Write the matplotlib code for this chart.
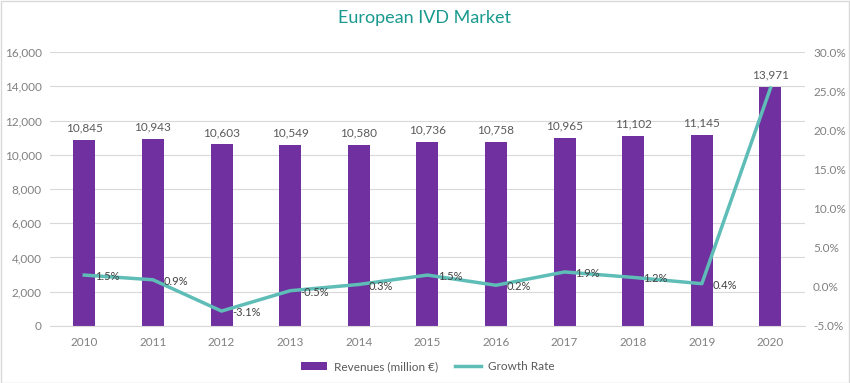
import numpy as np
import matplotlib.pyplot as plt
from matplotlib.ticker import FuncFormatter

plt.rcParams['font.family'] = ['Lato', 'DejaVu Sans']

years = ['2010', '2011', '2012', '2013', '2014', '2015', '2016', '2017', '2018', '2019', '2020']
revenues = [10845, 10943, 10603, 10549, 10580, 10736, 10758, 10965, 11102, 11145, 13971]
growth = [1.5, 0.9, -3.1, -0.5, 0.3, 1.5, 0.2, 1.9, 1.2, 0.4, 25.4]
growth_labels = ['1.5%', '0.9%', '-3.1%', '-0.5%', '0.3%', '1.5%', '0.2%', '1.9%', '1.2%', '0.4%', '']

purple = '#7030A0'
teal = '#5FBDB7'
gray = '#808080'

fig = plt.figure(figsize=(8.5, 3.83), dpi=100)
fig.patches.append(plt.Rectangle((0.001, 0.001), 0.998, 0.997, transform=fig.transFigure,
                                 fill=False, edgecolor='#d9d9d9', linewidth=1))
ax = fig.add_axes([0.0588, 0.149, 0.888, 0.715])
ax2 = ax.twinx()

x = np.arange(len(years))
bars = ax.bar(x, revenues, width=0.32, color=purple, zorder=2, label='Revenues (million €)')
for xi, v in zip(x, revenues):
    ax.text(xi, v + 380, f'{v:,}', ha='center', va='bottom', fontsize=8.5, color='#595959')

ax.set_ylim(0, 16000)
ax.set_yticks(np.arange(0, 16001, 2000))
ax.yaxis.set_major_formatter(FuncFormatter(lambda v, p: f'{int(v):,}'))
ax.set_xlim(-0.5, len(years) - 0.5)
ax.set_xticks(x)
ax.set_xticklabels(years)
ax.grid(axis='y', color='#d9d9d9', linewidth=0.8, zorder=0)
ax.set_axisbelow(True)

line, = ax2.plot(x, growth, color=teal, linewidth=2.5, zorder=3, label='Growth Rate')
for xi, g, lab in zip(x, growth, growth_labels):
    if lab:
        ax2.text(xi + 0.15, g - 0.2, lab, ha='left', va='center', fontsize=8, color='#404040', zorder=4)
ax2.set_ylim(-5, 30)
ax2.set_yticks(np.arange(-5, 30.1, 5))
ax2.yaxis.set_major_formatter(FuncFormatter(lambda v, p: f'{v:.1f}%'))

for a in (ax, ax2):
    for s in a.spines.values():
        s.set_visible(False)
    a.tick_params(length=0, labelsize=8.5, colors=gray)
ax.spines['bottom'].set_visible(True)
ax.spines['bottom'].set_color('#d9d9d9')
ax.tick_params(axis='x', pad=8)
ax.tick_params(axis='y', pad=6)
ax2.tick_params(axis='y', pad=6)

fig.text(0.5, 0.953, 'European IVD Market', ha='center', va='center', fontsize=13, color='#1A9A8E')
fig.legend(handles=[bars, line], loc='lower center', bbox_to_anchor=(0.503, 0.0), ncol=2,
           frameon=False, fontsize=8.5, labelcolor='#595959', handlelength=2.2,
           handletextpad=0.6, columnspacing=1.4)

fig.savefig('out.png', dpi=100)
